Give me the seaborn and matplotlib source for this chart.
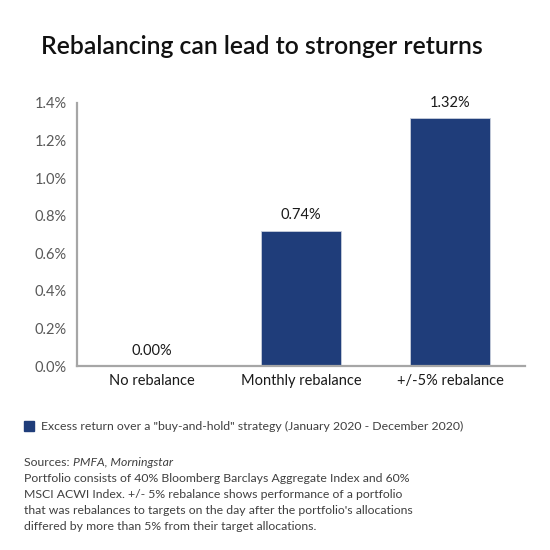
import matplotlib
matplotlib.use("Agg")
import matplotlib.pyplot as plt
import matplotlib.patches as mpatches
from matplotlib.ticker import FixedLocator
import pandas as pd
import seaborn as sns

# chart data
categories = ["No rebalance", "Monthly rebalance", "+/-5% rebalance"]
excess_return = [0.00, 0.72, 1.32]
value_labels = ["0.00%", "0.74%", "1.32%"]
y_ticks = [0.0, 0.2, 0.4, 0.6, 0.8, 1.0, 1.2, 1.4]
legend_label = 'Excess return over a "buy-and-hold" strategy (January 2020 - December 2020)'
notes = [
    "Portfolio consists of 40% Bloomberg Barclays Aggregate Index and 60%",
    "MSCI ACWI Index. +/- 5% rebalance shows performance of a portfolio",
    "that was rebalances to targets on the day after the portfolio's allocations",
    "differed by more than 5% from their target allocations.",
]

bar_color = "#1f3d7a"
axis_color = "#a6a6a6"

sns.set_style("white")
plt.rcParams["font.family"] = ["Lato", "DejaVu Sans"]

df = pd.DataFrame({"category": categories, "value": excess_return})

fig = plt.figure(figsize=(5.5, 5.5), dpi=100)
ax = fig.add_axes([77 / 550, 1 - 366 / 550, (525 - 77) / 550, (366 - 103) / 550])

sns.barplot(data=df, x="category", y="value", color=bar_color, width=0.535,
            saturation=1, ax=ax, edgecolor="#c8cfdc", linewidth=0.6)

ax.set_ylim(0, 1.4)
ax.set_xlim(-0.5, 2.5)
ax.set_yticks(y_ticks)
ax.set_yticklabels([f"{t:.1f}%" for t in y_ticks])
ax.set_xlabel("")
ax.set_ylabel("")

for side in ["top", "right"]:
    ax.spines[side].set_visible(False)
for side in ["left", "bottom"]:
    ax.spines[side].set_color(axis_color)
    ax.spines[side].set_linewidth(1.6)

ax.tick_params(axis="y", direction="inout", length=11, width=1.4, color=axis_color,
               labelsize=10.5, labelcolor="#595959", pad=2)
ax.tick_params(axis="x", which="major", length=0, labelsize=10.5, labelcolor="#1a1a1a", pad=6)
ax.xaxis.set_minor_locator(FixedLocator([0.5, 1.5, 2.5]))
ax.tick_params(axis="x", which="minor", direction="inout", length=11, width=1.4, color=axis_color)

for i, (v, lab) in enumerate(zip(excess_return, value_labels)):
    ax.annotate(lab, (i, v), xytext=(0, 6), textcoords="offset points",
                ha="center", va="bottom", fontsize=10.5, color="#1a1a1a")

fig.text(262 / 550, 1 - 46 / 550, "Rebalancing can lead to stronger returns",
         ha="center", va="center", fontsize=17.8, fontweight="semibold", color="#111111")

# legend
fig.patches.append(mpatches.Rectangle((24 / 550, 1 - 431 / 550), 10 / 550, 10 / 550,
                                      transform=fig.transFigure, color=bar_color))
fig.text(41 / 550, 1 - 426 / 550, legend_label, ha="left", va="center",
         fontsize=8.8, color="#404040")

# sources and notes
src = fig.text(24 / 550, 1 - 462 / 550, "Sources: ", ha="left", va="center",
               fontsize=8.85, color="#404040")
fig.canvas.draw()
bb = src.get_window_extent()
fig.text(bb.x1 / 550, 1 - 462 / 550, "PMFA, Morningstar", ha="left", va="center",
         fontsize=8.85, color="#404040", style="italic")
for k, line in enumerate(notes):
    fig.text(24 / 550, 1 - (478 + 16 * k) / 550, line, ha="left", va="center",
             fontsize=8.85, color="#404040")

fig.savefig("out.png", dpi=100)
